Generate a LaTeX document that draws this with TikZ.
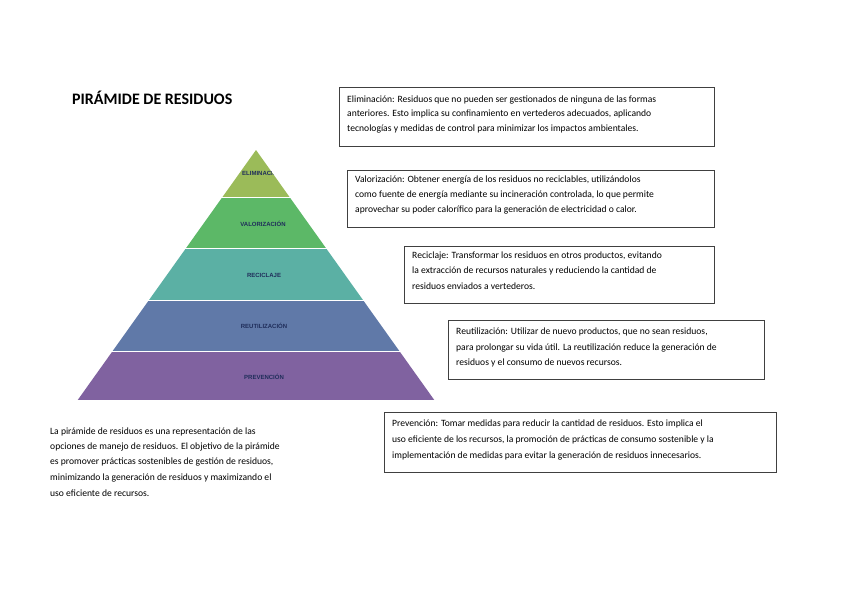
\documentclass[tikz,border=0pt]{standalone}
\usepackage{fontspec}
\setmainfont{Carlito}
\newfontfamily\lab{Liberation Sans}
\definecolor{cA}{RGB}{155,187,89}
\definecolor{cB}{RGB}{92,184,103}
\definecolor{cC}{RGB}{91,176,164}
\definecolor{cD}{RGB}{96,121,168}
\definecolor{cE}{RGB}{128,98,160}
\definecolor{labc}{RGB}{31,45,90}
\begin{document}
\begin{tikzpicture}[x=1pt,y=-1pt,
  txt/.style={anchor=west,inner sep=0pt,font=\fontsize{9.6}{15}\selectfont},
  bx/.style={draw=black!75,line width=0.9pt},
  plab/.style={font=\lab\bfseries\fontsize{6}{7}\selectfont,text=labc,inner sep=0pt}]
\useasboundingbox (0,0) rectangle (848,599);
\fill[white] (0,0) rectangle (848,599);
\def\sl{0.7131}
\newcommand\trap[3]{\fill[#3] ({256-\sl*(#1-150)},#1) -- ({256+\sl*(#1-150)},#1) -- ({256+\sl*(#2-150)},#2) -- ({256-\sl*(#2-150)},#2) -- cycle;
  \draw[white,line width=1.8pt] ({256-\sl*(#2-150)-3},#2) -- ({256+\sl*(#2-150)+3},#2);}
\trap{150}{198}{cA}
\trap{198}{249}{cB}
\trap{249}{301}{cC}
\trap{301}{352}{cD}
\trap{352}{401}{cE}
\begin{scope}
\clip (256,150) -- ({256+\sl*48},198) -- ({256-\sl*48},198) -- cycle;
\node[plab] (p1) at (262,173) {ELIMINACIÓN};
\end{scope}
\node[plab] (p2) at (263,224) {VALORIZACIÓN};
\node[plab] (p3) at (264,275) {RECICLAJE};
\node[plab] (p4) at (264,326) {REUTILIZACIÓN};
\node[plab] (p5) at (264,377) {PREVENCIÓN};
\node[anchor=west,inner sep=0pt,font=\bfseries\fontsize{16}{18}\selectfont] (title) at (72,98) {PIRÁMIDE DE RESIDUOS};
\draw[bx] (339,87) rectangle (714,146);
\node[txt] at (347,100) {Eliminación: Residuos que no pueden ser gestionados de ninguna de las formas};
\node[txt] at (347,114) {anteriores. Esto implica su confinamiento en vertederos adecuados, aplicando};
\node[txt] at (347,129) {tecnologías y medidas de control para minimizar los impactos ambientales.};
\draw[bx] (347,170) rectangle (714,227);
\node[txt] at (355,180) {Valorización: Obtener energía de los residuos no reciclables, utilizándolos};
\node[txt] at (355,195) {como fuente de energía mediante su incineración controlada, lo que permite};
\node[txt] at (355,210) {aprovechar su poder calorífico para la generación de electricidad o calor.};
\draw[bx] (404,246) rectangle (714,303);
\node[txt] at (412,256) {Reciclaje: Transformar los residuos en otros productos, evitando};
\node[txt] at (412,271) {la extracción de recursos naturales y reduciendo la cantidad de};
\node[txt] at (412,286) {residuos enviados a vertederos.};
\draw[bx] (448,320) rectangle (764,379);
\node[txt] at (456,332) {Reutilización: Utilizar de nuevo productos, que no sean residuos,};
\node[txt] at (456,348) {para prolongar su vida útil. La reutilización reduce la generación de};
\node[txt] at (456,363) {residuos y el consumo de nuevos recursos.};
\draw[bx] (384,412) rectangle (776,472);
\node[txt] at (392,424) {Prevención: Tomar medidas para reducir la cantidad de residuos. Esto implica el};
\node[txt] at (392,440) {uso eficiente de los recursos, la promoción de prácticas de consumo sostenible y la};
\node[txt] at (392,456) {implementación de medidas para evitar la generación de residuos innecesarios.};
\node[txt] at (50,432) {La pirámide de residuos es una representación de las};
\node[txt] at (50,447) {opciones de manejo de residuos. El objetivo de la pirámide};
\node[txt] at (50,462) {es promover prácticas sostenibles de gestión de residuos,};
\node[txt] at (50,478) {minimizando la generación de residuos y maximizando el};
\node[txt] at (50,493) {uso eficiente de recursos.};
\end{tikzpicture}
\end{document}
